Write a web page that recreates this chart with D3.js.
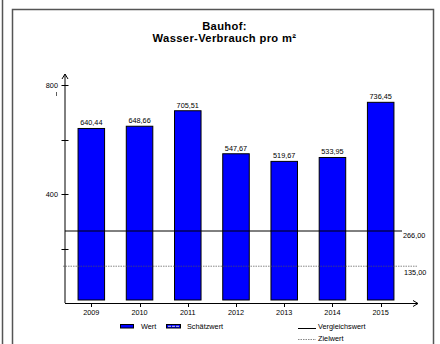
<!DOCTYPE html>
<html><head><meta charset="utf-8">
<script src="https://cdn.jsdelivr.net/npm/d3@7"></script>
<style>body{margin:0;background:#fff}svg{display:block;font-family:"Liberation Sans",Arial,sans-serif}</style>
</head><body><svg id="c" width="440" height="344"></svg>
<script>
const years = ["2009","2010","2011","2012","2013","2014","2015"];
const values = [640.44,648.66,705.51,547.67,519.67,533.95,736.45];
const refValues = [266, 135];
const refNames = ["Vergleichswert","Zielwert"];
const yTicks = [200,400,600,800];
const yTickLabels = [400,800];
const titleLines = ["Bauhof:","Wasser-Verbrauch pro m²"];
const legendNames = ["Wert","Schätzwert"];

const fmt = v => d3.format(".2f")(v).replace(".", ",");
const svg = d3.select("#c");
const BLUE = "#0000ff";
const FS = 7.3;

// frames
svg.append("line").attr("x1",2.5).attr("x2",2.5).attr("y1",0).attr("y2",344).attr("stroke","#555").attr("stroke-width",1.5);
svg.append("rect").attr("x",12.5).attr("y",9.5).attr("width",421).attr("height",345)
  .attr("fill","none").attr("stroke","#555").attr("stroke-width",1.5);

// title
svg.append("g").selectAll("text").data(titleLines).join("text")
  .attr("x",224.5).attr("y",(d,i)=>29.5+i*12.6).attr("text-anchor","middle")
  .attr("font-size",11.2).attr("font-weight","bold").attr("letter-spacing",0.35).text(d=>d);

const x = d3.scaleBand().domain(years).range([66,406]).paddingInner(0.45).paddingOuter(0.25);
const y = d3.scaleLinear().domain([0,800]).range([303,85]);

// bars
svg.append("g").selectAll("rect").data(values).join("rect")
  .attr("x",(d,i)=>x(years[i])).attr("width",x.bandwidth())
  .attr("y",d=>y(d)).attr("height",d=>y(0)-3-y(d))
  .attr("fill",BLUE).attr("stroke","#000").attr("stroke-width",1);

// value labels
svg.append("g").selectAll("text").data(values).join("text")
  .attr("x",(d,i)=>x(years[i])+x.bandwidth()/2).attr("y",d=>y(d)-3)
  .attr("text-anchor","middle").attr("font-size",FS).text(d=>fmt(d));

// reference lines
svg.append("line").attr("x1",65).attr("x2",402).attr("y1",y(refValues[0])+0.5).attr("y2",y(refValues[0])+0.5)
  .attr("stroke","#000").attr("stroke-width",1);
svg.append("line").attr("x1",63).attr("x2",417).attr("y1",y(refValues[1])).attr("y2",y(refValues[1]))
  .attr("stroke","#555").attr("stroke-width",0.7).attr("stroke-dasharray","1.5,1");
svg.append("text").attr("x",403).attr("y",y(refValues[0])+7.5).attr("font-size",FS).text(fmt(refValues[0]));
svg.append("text").attr("x",404).attr("y",y(refValues[1])+8.5).attr("font-size",FS).text(fmt(refValues[1]));

// y axis
const ax = 65;
svg.append("line").attr("x1",ax).attr("x2",ax).attr("y1",y(0)).attr("y2",74).attr("stroke","#000").attr("stroke-width",1);
svg.append("path").attr("d",`M${ax-3},79 L${ax},74 L${ax+3},79`).attr("fill","none").attr("stroke","#000");
svg.append("g").selectAll("line").data(yTicks).join("line")
  .attr("x1",ax-3.5).attr("x2",ax+3.5).attr("y1",d=>Math.round(y(d))+0.5).attr("y2",d=>Math.round(y(d))+0.5)
  .attr("stroke","#000");
svg.append("g").selectAll("text").data(yTickLabels).join("text")
  .attr("x",58).attr("y",d=>y(d)+2.5).attr("text-anchor","end").attr("font-size",FS).text(d=>d);
svg.append("line").attr("x1",56.5).attr("x2",56.5).attr("y1",92).attr("y2",96).attr("stroke","#333").attr("stroke-width",0.8);

// x axis
svg.append("line").attr("x1",ax).attr("x2",418).attr("y1",y(0)+0.5).attr("y2",y(0)+0.5).attr("stroke","#000");
svg.append("path").attr("d",`M413,${y(0)-2.5} L418,${y(0)+0.5} L413,${y(0)+3.5}`).attr("fill","none").attr("stroke","#000");
svg.append("g").selectAll("line").data(years).join("line")
  .attr("x1",d=>Math.round(x(d)+x.bandwidth()/2)+0.5).attr("x2",d=>Math.round(x(d)+x.bandwidth()/2)+0.5)
  .attr("y1",y(0)).attr("y2",y(0)+4).attr("stroke","#000");
svg.append("g").selectAll("text").data(years).join("text")
  .attr("x",d=>x(d)+x.bandwidth()/2).attr("y",315).attr("text-anchor","middle").attr("font-size",FS).text(d=>d);

// legend
const lg = svg.append("g").attr("font-size",FS);
lg.append("rect").attr("x",120.5).attr("y",324.5).attr("width",13).attr("height",3.5).attr("fill",BLUE).attr("stroke","#000");
lg.append("text").attr("x",141).attr("y",329).text(legendNames[0]);
lg.append("rect").attr("x",166.5).attr("y",324.5).attr("width",14).attr("height",3.5).attr("fill",BLUE).attr("stroke","#000");
lg.append("line").attr("x1",168).attr("x2",179).attr("y1",326.3).attr("y2",326.3).attr("stroke","#ccd").attr("stroke-width",1).attr("stroke-dasharray","3,1");
lg.append("text").attr("x",187).attr("y",329).text(legendNames[1]);
lg.append("line").attr("x1",298).attr("x2",316).attr("y1",328.5).attr("y2",328.5).attr("stroke","#000");
lg.append("text").attr("x",318).attr("y",329).text(refNames[0]);
lg.append("line").attr("x1",298).attr("x2",316).attr("y1",339.5).attr("y2",339.5).attr("stroke","#555").attr("stroke-width",0.7).attr("stroke-dasharray","1.5,1");
lg.append("text").attr("x",318).attr("y",341).text(refNames[1]);
</script></body></html>
